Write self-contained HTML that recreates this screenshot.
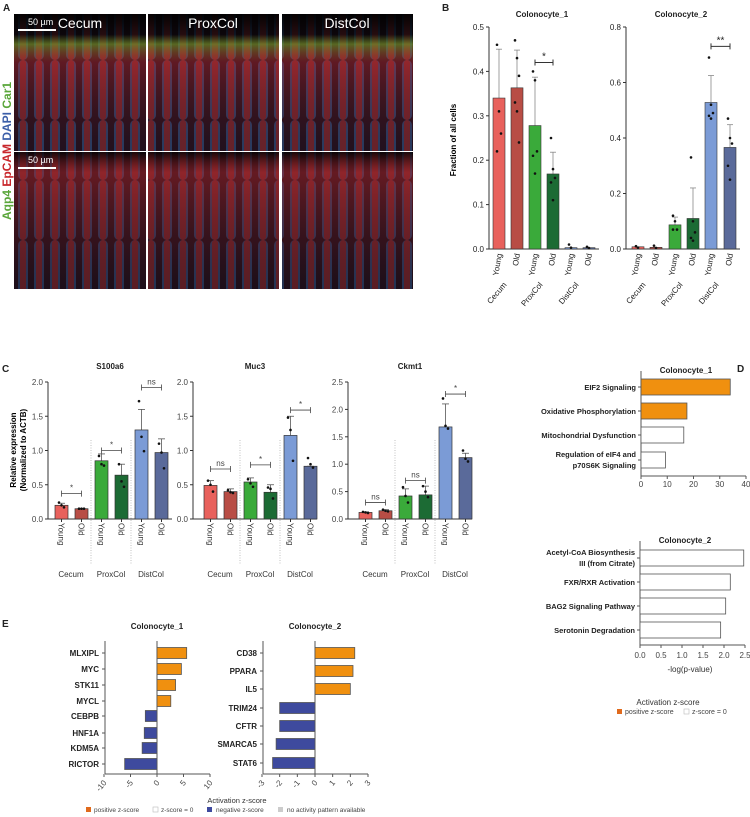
<!DOCTYPE html>
<html><head><meta charset="utf-8"><style>
body{margin:0;background:#fff}
svg{display:block;font-family:"Liberation Sans",sans-serif}
</style></head><body>
<svg id="s" width="750" height="817" viewBox="0 0 750 817" xmlns="http://www.w3.org/2000/svg"></svg>
<script>
let o='';
const A=(s)=>o+=s;
const T=(x,y,t,sz,opt={})=>A(`<text x="${x}" y="${y}" font-size="${sz}" ${opt.b?'font-weight="bold"':''} text-anchor="${opt.a||'start'}" fill="${opt.f||'#222'}" ${opt.r!==undefined?`transform="rotate(${opt.r} ${x} ${y})"`:''}>${t}</text>`);
const L=(x1,y1,x2,y2,c='#333',w=1,d='')=>A(`<line x1="${x1}" y1="${y1}" x2="${x2}" y2="${y2}" stroke="${c}" stroke-width="${w}" ${d?`stroke-dasharray="${d}"`:''}/>`);
const R=(x,y,w,h,f,s='#333',sw=0.8)=>A(`<rect x="${x}" y="${y}" width="${w}" height="${h}" fill="${f}" stroke="${s}" stroke-width="${sw}"/>`);
const D=(x,y)=>A(`<circle cx="${x}" cy="${y}" r="1.3" fill="#111"/>`);

A(`<defs>
<pattern id="crypt" width="16" height="60" patternUnits="userSpaceOnUse">
<rect width="16" height="60" fill="#2a1525"/>
<rect x="2" y="0" width="10" height="60" rx="5" fill="#35609a" opacity="0.7"/>
<rect x="4" y="0" width="6" height="60" rx="3" fill="#a01c1a" opacity="0.7"/>
</pattern>
<linearGradient id="topg" x1="0" y1="0" x2="0" y2="1">
<stop offset="0" stop-color="#000" stop-opacity="0.95"/>
<stop offset="0.15" stop-color="#000" stop-opacity="0.7"/>
<stop offset="0.22" stop-color="#6a8a20" stop-opacity="0.7"/>
<stop offset="0.35" stop-color="#b02020" stop-opacity="0.4"/>
<stop offset="1" stop-color="#000" stop-opacity="0.2"/>
</linearGradient>
<linearGradient id="botg" x1="0" y1="0" x2="0" y2="1">
<stop offset="0" stop-color="#000" stop-opacity="0.8"/>
<stop offset="0.15" stop-color="#a02020" stop-opacity="0.5"/>
<stop offset="1" stop-color="#000" stop-opacity="0.3"/>
</linearGradient>
</defs>`);

T(3,11,'A',10,{b:1});
const cols=[[14,132],[148,131],[282,131]],rows=[[14,137],[152,137]];
rows.forEach((r,ri)=>cols.forEach(c=>{
 R(c[0],r[0],c[1],r[1],'url(#crypt)','none',0);
 R(c[0],r[0],c[1],r[1],ri?'url(#botg)':'url(#topg)','none',0);
}));
[['Cecum',80],['ProxCol',213],['DistCol',347]].forEach(v=>T(v[1],28,v[0],14,{a:'middle',f:'#fff'}));
L(18,30,56,30,'#fff',2);T(28,25,'50 µm',9,{f:'#fff'});
L(18,168,56,168,'#fff',2);T(28,163,'50 µm',9,{f:'#fff'});
A(`<text transform="translate(11,220) rotate(-90)" font-size="12" font-weight="bold"><tspan fill="#5aa63a">Aqp4 </tspan><tspan fill="#c8262b">EpCAM </tspan><tspan fill="#3b5ea8">DAPI </tspan><tspan fill="#5aa63a">Car1</tspan></text>`);

const C=['#e8615c','#b84d45','#3aaa3a','#1c6b34','#7b9bd6','#5a6a9a'];

T(442,11,'B',10,{b:1});
function chartB(ax,xs,ymax,step,vals,errs,title,pts,sig){
 const y0=249,yt=27,sc=v=>y0-(v/ymax)*(y0-yt);
 L(ax,yt,ax,y0);L(ax,y0,xs[5]+16,y0);
 for(let v=0;v<=ymax+1e-9;v+=step){L(ax-3,sc(v),ax,sc(v));T(ax-5,sc(v)+3,v.toFixed(1),8,{a:'end'});}
 T((ax+xs[5]+12)/2,17,title,8,{b:1,a:'middle'});
 xs.forEach((x,i)=>{
  if(vals[i]>0.01){L(x+6,sc(vals[i]),x+6,sc(errs[i]),'#888',0.8);L(x+3,sc(errs[i]),x+9,sc(errs[i]),'#888',0.8);}
  R(x,sc(vals[i]),12,y0-sc(vals[i]),C[i],'#333',0.6);
  pts[i].forEach((p,j)=>D(x+4+(j%3)*2,sc(p)));
  T(x+9,254,i%2?'Old':'Young',8,{a:'end',r:-80});
 });
 [['Cecum',0],['ProxCol',2],['DistCol',4]].forEach(g=>T(xs[g[1]]+14,285,g[0],8,{a:'end',r:-50}));
 const sy=sc(sig[1]);L(xs[sig[0]]+6,sy,xs[sig[0]+1]+6,sy);L(xs[sig[0]]+6,sy-3,xs[sig[0]]+6,sy+3);L(xs[sig[0]+1]+6,sy-3,xs[sig[0]+1]+6,sy+3);
 T((xs[sig[0]]+xs[sig[0]+1])/2+6,sy-3,sig[2],10,{a:'middle'});
}
A(`<text transform="translate(456,140) rotate(-90)" font-size="8" font-weight="bold" text-anchor="middle">Fraction of all cells</text>`);
chartB(489,[493,511,529,547,565,583],0.5,0.1,[.34,.363,.278,.169,.003,.003],[.45,.448,.387,.218,0,0],'Colonocyte_1',
 [[.46,.31,.26,.22],[.47,.43,.39,.33,.31,.24],[.4,.38,.22,.21,.17],[.25,.18,.16,.15,.11],[.01,.003],[.005,.002]],[2,.42,'*']);
chartB(626,[632,650,669,687,705,724],0.8,0.2,[.008,.006,.087,.11,.528,.366],[.011,.01,.115,.22,.625,.448],'Colonocyte_2',
 [[.01,.005],[.012,.004],[.12,.1,.07,.07],[.33,.1,.06,.04,.03],[.69,.52,.49,.48,.47],[.47,.4,.38,.3,.25]],[4,.73,'**']);

T(2,372,'C',10,{b:1});
A(`<text transform="translate(21,450) rotate(-90)" font-size="8" font-weight="bold" text-anchor="middle"><tspan x="0" dy="-5">Relative expression</tspan><tspan x="0" dy="10">(Normalized to ACTB)</tspan></text>`);
function chartC(ax,ymax,title,vals,errs,pts,sigs){
 const y0=519,yt=382,sc=v=>y0-(v/ymax)*(y0-yt);
 const xs=[7,27,47,67,87,107].map(d=>ax+d+(ax==48?0:4));
 L(ax,yt,ax,y0);L(ax,y0,ax+124,y0);
 for(let v=0;v<=ymax+1e-9;v+=0.5){L(ax-3,sc(v),ax,sc(v));T(ax-5,sc(v)+3,v.toFixed(1),8,{a:'end',f:'#444'});}
 T(ax+62,369,title,8,{b:1,a:'middle'});
 L(xs[2]-4,440,xs[2]-4,565,'#999',0.6,'1,1.5');L(xs[4]-4,440,xs[4]-4,565,'#999',0.6,'1,1.5');
 xs.forEach((x,i)=>{
  L(x+6.5,sc(vals[i]),x+6.5,sc(errs[i]),'#555',0.8);L(x+3,sc(errs[i]),x+10,sc(errs[i]),'#555',0.8);
  R(x,sc(vals[i]),13,y0-sc(vals[i]),C[i],'#333',0.7);
  pts[i].forEach((p,j)=>D(x+4+(j%3)*2.5,sc(p)));
  L(x+6.5,y0,x+6.5,y0+3);
  T(x+3.5,523,i%2?'Old':'Young',8,{r:90,f:'#333'});
 });
 [['Cecum',0],['ProxCol',2],['DistCol',4]].forEach(g=>T(xs[g[1]]+16,577,g[0],8,{a:'middle',f:'#333'}));
 sigs.forEach((s,k)=>{const a=xs[2*k]+6.5,b=xs[2*k+1]+6.5,y=sc(s[0]);L(a,y,b,y,'#444',0.8);L(a,y-3,a,y+3,'#444',0.8);L(b,y-3,b,y+3,'#444',0.8);T((a+b)/2,y-3,s[1],8,{a:'middle',f:'#444'});});
}
chartC(48,2,'S100a6',[.2,.15,.85,.64,1.3,.97],[.23,.155,.95,.8,1.6,1.17],[[.24,.2,.17],[.15,.15,.15],[.92,.8,.78],[.8,.55,.47],[1.72,1.2,.99],[1.1,.97,.74]],[[.37,'*'],[1.0,'*'],[1.92,'ns']]);
chartC(193,2,'Muc3',[.49,.4,.54,.39,1.22,.77],[.56,.44,.6,.5,1.5,.77],[[.56,.5,.4],[.42,.39,.38],[.58,.52,.47],[.46,.44,.3],[1.48,1.3,.85],[.89,.8,.75]],[[.73,'ns'],[.79,'*'],[1.59,'*']]);
chartC(348,2.5,'Ckmt1',[.12,.15,.42,.44,1.68,1.12],[.13,.17,.55,.6,2.1,1.2],[[.13,.12,.11],[.17,.15,.14],[.58,.42,.3],[.6,.5,.4],[2.2,1.7,1.65],[1.25,1.1,1.05]],[[.3,'ns'],[.7,'ns'],[2.28,'*']]);

T(737,372,'D',10,{b:1});
function chartD(ax,yt,yb,max,ticks,title,rows,vals,cols,tickY){
 const w=105,sc=v=>ax+v/max*w;
 L(ax,yt,ax,yb,'#555');L(ax,yb,ax+w,yb,'#555');
 T(ax+45,yt+2,title,8,{b:1,a:'middle'});
 ticks.forEach(t=>{L(sc(t),yb,sc(t),yb+3,'#555');T(sc(t),tickY,t,8,{a:'middle',f:'#444'});});
 rows.forEach((r,i)=>{
  const y=r[0];L(ax-3,y,ax,y,'#555');
  R(ax,y-8,sc(vals[i])-ax,16,cols[i],'#555',0.8);
  if(r[2]){T(ax-5,y-3,r[1],7.5,{a:'end',b:1});T(ax-5,y+8,r[2],7.5,{a:'end',b:1});}
  else T(ax-5,y+3,r[1],7.5,{a:'end',b:1});
 });
}
chartD(641,371,476,40,[0,10,20,30,40],'Colonocyte_1',[[387,'EIF2 Signaling'],[411,'Oxidative Phosphorylation'],[435,'Mitochondrial Dysfunction'],[460,'Regulation of eIF4 and','p70S6K Signaling']],[34,17.5,16.3,9.3],['#f0900f','#f0900f','#fff','#fff'],487);
chartD(640,541,645,2.5,['0.0','0.5','1.0','1.5','2.0','2.5'],'Colonocyte_2',[[558,'Acetyl-CoA Biosynthesis','III (from Citrate)'],[582,'FXR/RXR Activation'],[606,'BAG2 Signaling Pathway'],[630,'Serotonin Degradation']],[2.47,2.15,2.04,1.92],['#fff','#fff','#fff','#fff'],658);
T(690,672,'-log(p-value)',8,{a:'middle',f:'#333'});
T(668,705,'Activation z-score',8,{a:'middle',f:'#333'});
R(617,709,5,5,'#e06a1c','none',0);T(625,714,'positive z-score',7,{f:'#444'});
R(684,709,5,5,'#fff','#bbb',0.6);T(692,714,'z-score = 0',7,{f:'#444'});

T(2,627,'E',10,{b:1});
function chartE(ax,zx,max,endx,title,rows,vals,ticks){
 const sc=v=>zx+v/max*(endx-zx),yb=774,yt=641;
 L(ax,yt,ax,yb,'#555');L(ax,yb,endx,yb,'#555');L(zx,yt,zx,yb,'#555');
 T(zx,629,title,8,{b:1,a:'middle'});
 ticks.forEach(t=>{L(sc(t),yb,sc(t),yb+3,'#555');T(sc(t)+3,yb+9,t,8,{a:'end',r:-50,f:'#444'});});
 rows.forEach((r,i)=>{
  const y=r[1];L(ax-3,y,ax,y,'#555');
  const v=vals[i],x1=Math.min(zx,sc(v));
  R(x1,y-5.5,Math.abs(sc(v)-zx),11,v>0?'#f0900f':'#3e4a9e','#555',0.8);
  T(ax-6,y+3,r[0],8,{a:'end',b:1});
 });
}
chartE(105,157,10,210,'Colonocyte_1',[['MLXIPL',653],['MYC',669],['STK11',685],['MYCL',701],['CEBPB',716],['HNF1A',733],['KDM5A',748],['RICTOR',764]],[5.6,4.6,3.5,2.6,-2.2,-2.4,-2.8,-6.1],[-10,-5,0,5,10]);
chartE(263,315,3,368,'Colonocyte_2',[['CD38',653],['PPARA',671],['IL5',689],['TRIM24',708],['CFTR',726],['SMARCA5',744],['STAT6',763]],[2.25,2.15,2.0,-2.0,-2.0,-2.2,-2.4],[-3,-2,-1,0,1,2,3]);
T(237,803,'Activation z-score',7.5,{a:'middle',f:'#333'});
R(86,807,5,5,'#e06a1c','none',0);T(94,812,'positive z-score',6.5,{f:'#444'});
R(153,807,5,5,'#fff','#bbb',0.6);T(161,812,'z-score = 0',6.5,{f:'#444'});
R(207,807,5,5,'#3e4a9e','none',0);T(216,812,'negative z-score',6.5,{f:'#444'});
R(278,807,5,5,'#ccc','none',0);T(287,812,'no activity pattern available',6.5,{f:'#444'});

document.getElementById('s').innerHTML=o;
</script>
</body></html>
